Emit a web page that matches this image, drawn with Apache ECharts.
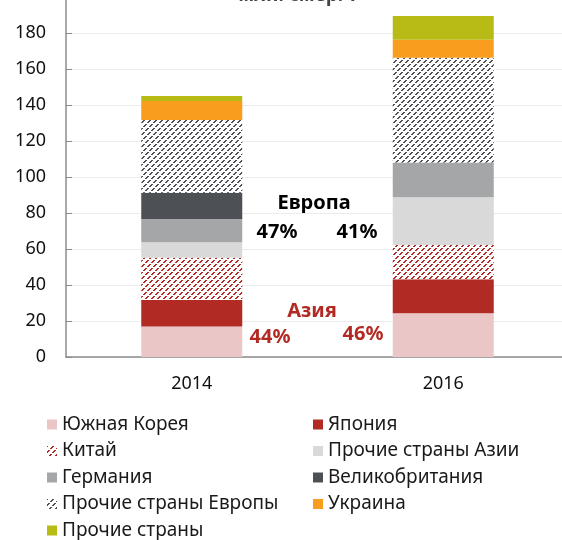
<!DOCTYPE html>
<html lang="ru" style="height: 100%;overflow: hidden;">
<head>
  <meta charset="utf-8">
  <script src="https://cdn.jsdelivr.net/npm/echarts@6/dist/echarts.min.js"></script>
</head>
<body style="height: 100%; margin: 0; background: #fff;">
  <div id="container" style="width: 562px; height: 540px;"></div>
  <script type="text/javascript">
    // данные
    var years = ['2014', '2016'];
    var korea = [16.9, 24.3];
    var japan = [14.8, 18.9];
    var china = [23.5, 19.0];
    var asiaOther = [8.5, 26.5];
    var germany = [13.0, 19.3];
    var uk = [14.6, 0];
    var europeOther = [40.4, 58.3];
    var ukraine = [10.5, 10.0];
    var other = [2.8, 13.1];

    var yTicks = [0, 20, 40, 60, 80, 100, 120, 140, 160, 180];

    // штриховка "////" пунктиром
    function hatch(color) {
      var c = document.createElement('canvas');
      c.width = 12;
      c.height = 12;
      var ctx = c.getContext('2d');
      ctx.fillStyle = '#fff';
      ctx.fillRect(0, 0, 12, 12);
      ctx.fillStyle = color;
      for (var y = 0; y < 12; y++) {
        if (y % 4 === 3) continue;
        var x = (11 - y) % 6;
        ctx.fillRect(x, y, 2, 1);
        ctx.fillRect(x + 6, y, 2, 1);
        if (x === 5) ctx.fillRect(0, y, 1, 1);
      }
      return { image: c, repeat: 'repeat' };
    }

    var font = '"Noto Sans", "Open Sans", sans-serif';

    var series = [
      { name: 'Южная Корея', data: korea, color: '#ebc6c6' },
      { name: 'Япония', data: japan, color: '#b22a24' },
      { name: 'Китай', data: china, color: hatch('#b22a24') },
      { name: 'Прочие страны Азии', data: asiaOther, color: '#d9d9d9' },
      { name: 'Германия', data: germany, color: '#a5a6a8' },
      { name: 'Великобритания', data: uk, color: '#4d5054' },
      { name: 'Прочие страны Европы', data: europeOther, color: hatch('#4d5054') },
      { name: 'Украина', data: ukraine, color: '#f99d1f' },
      { name: 'Прочие страны', data: other, color: '#b8bb16' }
    ].map(function (s) {
      return {
        name: s.name,
        type: 'bar',
        stack: 'total',
        barWidth: 101,
        data: s.data,
        itemStyle: { color: s.color },
        emphasis: { disabled: true }
      };
    });

    var myChart = echarts.init(document.getElementById('container'), null, { renderer: 'canvas' });

    var legendText = { fontFamily: font, fontSize: 19, color: '#1a1a1a', lineHeight: 19 };

    var option = {
      animation: false,
      textStyle: { fontFamily: font },
      grid: { left: 66, width: 503, top: -3, bottom: 183, outerBoundsMode: 'none' },
      legend: [
        {
          orient: 'vertical', left: 47, top: 415, padding: 0, itemWidth: 10, itemHeight: 10, itemGap: 7.5,
          icon: 'rect', textStyle: legendText, selectedMode: false,
          data: ['Южная Корея', 'Китай', 'Германия', 'Прочие страны Европы', 'Прочие страны']
        },
        {
          orient: 'vertical', left: 313, top: 415, padding: 0, itemWidth: 10, itemHeight: 10, itemGap: 7.5,
          icon: 'rect', textStyle: legendText, selectedMode: false,
          data: ['Япония', 'Прочие страны Азии', 'Великобритания', 'Украина']
        }
      ],
      xAxis: {
        type: 'category',
        data: years,
        axisLine: { lineStyle: { color: '#8c8c8c', width: 1.5 } },
        axisTick: { show: false },
        axisLabel: { fontSize: 18, color: '#111', margin: 18 }
      },
      yAxis: {
        type: 'value',
        min: 0,
        max: 200,
        interval: 20,
        axisLine: { show: true, lineStyle: { color: '#8c8c8c', width: 1.5 } },
        axisTick: { show: true, inside: true, length: 6, lineStyle: { color: '#8c8c8c' } },
        splitLine: { lineStyle: { color: '#ececec' } },
        axisLabel: {
          fontSize: 18, color: '#111', margin: 20,
          formatter: function (v) { return yTicks.indexOf(v) >= 0 ? String(v) : ''; }
        }
      },
      graphic: [
        { type: 'text', x: 298, y: -4, style: { text: 'млн. смер. т', font: 'bold 19px ' + font, fill: '#444', align: 'center', verticalAlign: 'middle' } },
        { type: 'text', x: 314, y: 203, style: { text: 'Европа', font: 'bold 20px ' + font, fill: '#000', align: 'center', verticalAlign: 'middle' } },
        { type: 'text', x: 277, y: 232, style: { text: '47%', font: 'bold 20px ' + font, fill: '#000', align: 'center', verticalAlign: 'middle' } },
        { type: 'text', x: 357, y: 232, style: { text: '41%', font: 'bold 20px ' + font, fill: '#000', align: 'center', verticalAlign: 'middle' } },
        { type: 'text', x: 312, y: 311, style: { text: 'Азия', font: 'bold 20px ' + font, fill: '#b22a24', align: 'center', verticalAlign: 'middle' } },
        { type: 'text', x: 270, y: 337, style: { text: '44%', font: 'bold 20px ' + font, fill: '#b22a24', align: 'center', verticalAlign: 'middle' } },
        { type: 'text', x: 363, y: 334, style: { text: '46%', font: 'bold 20px ' + font, fill: '#b22a24', align: 'center', verticalAlign: 'middle' } }
      ],
      series: series
    };

    myChart.setOption(option);
  </script>
</body>
</html>
